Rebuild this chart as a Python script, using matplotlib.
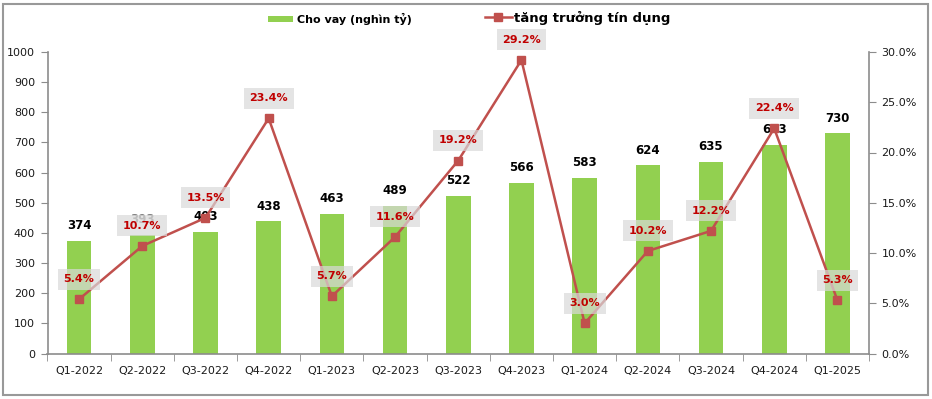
import matplotlib
matplotlib.use('Agg')
import matplotlib.pyplot as plt
from matplotlib.patches import Rectangle
from matplotlib.lines import Line2D
from matplotlib.ticker import FuncFormatter, FixedLocator
import numpy as np

quarters = ['Q1-2022', 'Q2-2022', 'Q3-2022', 'Q4-2022', 'Q1-2023', 'Q2-2023',
            'Q3-2023', 'Q4-2023', 'Q1-2024', 'Q2-2024', 'Q3-2024', 'Q4-2024',
            'Q1-2025']
loans = [374, 393, 403, 438, 463, 489, 522, 566, 583, 624, 635, 693, 730]
growth = [5.4, 10.7, 13.5, 23.4, 5.7, 11.6, 19.2, 29.2, 3.0, 10.2, 12.2, 22.4, 5.3]

GREEN = '#92D050'
RED = '#C0504D'
AXC = '#8c8c8c'
TXT = '#1a1a1a'

plt.rcParams['font.family'] = ['DejaVu Sans']

fig = plt.figure(figsize=(9.32, 3.99), dpi=100)
ax = fig.add_axes([47.5/932, 1-353.5/399, (869-47.5)/932, (353.5-52)/399])
x = np.arange(len(quarters))

ax.bar(x, loans, width=0.39, color=GREEN, zorder=2)
ax.set_xlim(-0.5, len(quarters)-0.5)
ax.set_ylim(0, 1000)
ax.set_yticks(range(0, 1001, 100))
ax.set_xticks(x)
ax.set_xticklabels(quarters)
ax.xaxis.set_minor_locator(FixedLocator(np.arange(-0.5, len(quarters), 1)))
ax.tick_params(axis='x', which='major', length=0, pad=9, labelsize=8, labelcolor=TXT)
ax.tick_params(axis='x', which='minor', length=5, color=AXC, direction='out')
ax.tick_params(axis='y', length=5, color=AXC, labelsize=8, labelcolor=TXT, pad=4)
ax.spines['top'].set_visible(False)
for s in ['left', 'bottom', 'right']:
  ax.spines[s].set_color(AXC)
  ax.spines[s].set_linewidth(1.2)

for i, v in enumerate(loans):
  col = '#808080' if i == 1 else 'black'
  ax.annotate(str(v), (i, v), xytext=(0, 11), textcoords='offset points',
              ha='center', va='center', fontsize=8.5, fontweight='bold',
              color=col, zorder=3)

ax2 = ax.twinx()
g = np.array(growth) / 100.0
ax2.plot(x, g, color=RED, lw=1.8, marker='s', markersize=6,
         markerfacecolor=RED, markeredgecolor=RED, zorder=4, clip_on=False)
ax2.set_ylim(0, 0.30)
ax2.set_yticks(np.arange(0, 0.301, 0.05))
ax2.yaxis.set_major_formatter(FuncFormatter(lambda v, p: '%.1f%%' % (v*100)))
ax2.tick_params(axis='y', length=5, color=AXC, labelsize=8, labelcolor=TXT, pad=4)
for s in ax2.spines.values():
  s.set_visible(False)

for i, v in enumerate(growth):
  ax2.annotate('%.1f%%' % v, (i, v/100.0), xytext=(0, 14.5), textcoords='offset points',
               ha='center', va='center', fontsize=8, fontweight='bold',
               color='#C00000', zorder=5, annotation_clip=False,
               bbox=dict(boxstyle='square,pad=0.5', facecolor='#d9d9d9',
                         edgecolor='none', alpha=0.7))

# legend
h1 = Rectangle((0, 0), 1, 1, facecolor=GREEN, edgecolor='none')
leg1 = fig.legend([h1], ['Cho vay (nghìn tỷ)'], loc='center', bbox_to_anchor=(340/932, 1-19/399),
                  frameon=False, handlelength=2.2, handleheight=0.45, handletextpad=0.4,
                  prop={'size': 8, 'weight': 'bold'})
h2 = Line2D([0], [0], color=RED, lw=1.8, marker='s', markersize=6)
leg2 = fig.legend([h2], ['tăng trưởng tín dụng'], loc='center', bbox_to_anchor=(578/932, 1-18/399),
                  frameon=False, handlelength=2.0, handletextpad=0.2,
                  prop={'size': 9.5, 'weight': 'bold'})

# outer frame
fig.add_artist(Rectangle((3/932, 4/399), 925/932, 391/399, transform=fig.transFigure,
                         facecolor='none', edgecolor='#999999', lw=1.5))

fig.savefig('out.png', dpi=100)
